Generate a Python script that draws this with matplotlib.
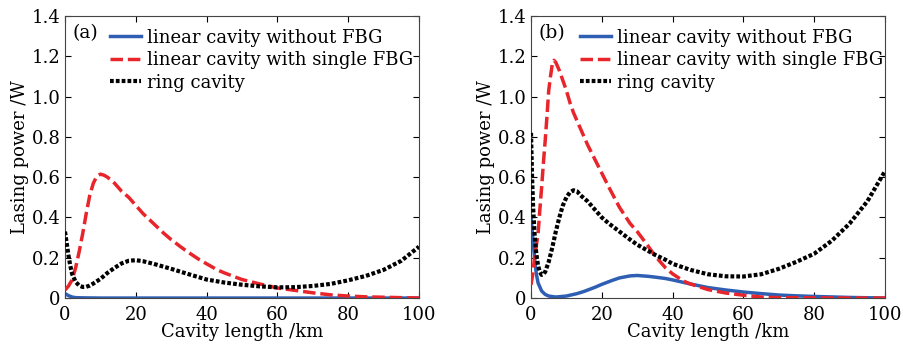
import numpy as np
import matplotlib
matplotlib.use("Agg")
import matplotlib.pyplot as plt

plt.rcParams['font.family'] = ['DejaVu Serif']
plt.rcParams['mathtext.fontset'] = 'dejavuserif'

# ---- panel (a) ----
xa_blue = [0, 1, 2, 3, 5, 10, 20, 40, 60, 80, 100]
ya_blue = [0.022, 0.012, 0.005, 0.002, 0.001, 0.0, 0.0, 0.0, 0.0, 0.0, 0.0]

xa_red = [0, 1, 2, 3, 4, 5, 6, 7, 8, 9, 10, 11, 12, 14, 16, 18, 20, 22, 25, 28, 30,
          33, 35, 38, 40, 43, 45, 48, 50, 55, 60, 65, 70, 75, 80, 85, 90, 95, 100]
ya_red = [0.04, 0.06, 0.09, 0.15, 0.23, 0.32, 0.42, 0.51, 0.57, 0.605, 0.615, 0.61, 0.6,
          0.57, 0.53, 0.5, 0.46, 0.42, 0.37, 0.32, 0.29, 0.25, 0.225, 0.19, 0.17,
          0.14, 0.125, 0.105, 0.092, 0.07, 0.05, 0.038, 0.026, 0.016, 0.01, 0.006,
          0.004, 0.002, 0.0]

xa_ring = [0, 0.5, 1, 1.5, 2, 3, 4, 5, 6, 7, 8, 10, 12, 14, 16, 18, 20, 22, 25, 28, 30,
           35, 40, 45, 50, 55, 60, 65, 70, 75, 80, 85, 90, 95, 100]
ya_ring = [0.33, 0.27, 0.21, 0.16, 0.12, 0.08, 0.062, 0.055, 0.056, 0.062, 0.072,
           0.095, 0.125, 0.15, 0.172, 0.185, 0.188, 0.183, 0.17, 0.155, 0.145,
           0.118, 0.092, 0.077, 0.066, 0.058, 0.053, 0.054, 0.06, 0.07, 0.088,
           0.11, 0.14, 0.185, 0.255]

# ---- panel (b) ----
xb_blue = [0, 0.5, 1, 1.5, 2, 3, 4, 5, 7, 10, 13, 15, 18, 20, 23, 25, 28, 30, 33, 35,
           38, 40, 45, 50, 55, 60, 65, 70, 75, 80, 90, 100]
yb_blue = [0.4, 0.3, 0.2, 0.12, 0.075, 0.035, 0.018, 0.01, 0.005, 0.01, 0.022, 0.033,
           0.053, 0.068, 0.088, 0.1, 0.11, 0.112, 0.108, 0.104, 0.097, 0.09, 0.07,
           0.052, 0.04, 0.03, 0.022, 0.015, 0.011, 0.008, 0.003, 0.0]

xb_red = [0, 0.5, 1, 1.5, 2, 2.5, 3, 3.5, 4, 4.5, 5, 5.5, 6, 6.5, 7, 8, 9, 10, 11, 12,
          14, 16, 18, 20, 22, 25, 28, 30, 33, 35, 38, 40, 43, 45, 50, 55, 60, 65, 70,
          80, 90, 100]
yb_red = [0.066, 0.12, 0.2, 0.26, 0.32, 0.44, 0.55, 0.67, 0.78, 0.9, 1.03, 1.1, 1.16,
          1.18, 1.17, 1.13, 1.08, 1.03, 0.97, 0.92, 0.84, 0.76, 0.69, 0.62, 0.55,
          0.45, 0.37, 0.33, 0.26, 0.21, 0.15, 0.12, 0.085, 0.07, 0.042, 0.025, 0.014,
          0.005, 0.002, 0.001, 0.0, 0.0]

xb_ring = [0, 0.3, 0.6, 1, 1.5, 2, 2.5, 3, 3.5, 4, 5, 6, 7, 8, 9, 10, 11, 12, 13, 14,
           16, 18, 20, 22, 25, 28, 30, 33, 35, 38, 40, 45, 50, 55, 60, 65, 70, 75, 80,
           85, 90, 95, 100]
yb_ring = [0.82, 0.6, 0.45, 0.32, 0.22, 0.16, 0.13, 0.115, 0.118, 0.13, 0.18, 0.25,
           0.33, 0.4, 0.46, 0.5, 0.525, 0.535, 0.53, 0.51, 0.48, 0.44, 0.4, 0.37,
           0.33, 0.29, 0.265, 0.235, 0.215, 0.19, 0.17, 0.14, 0.118, 0.108, 0.107,
           0.118, 0.145, 0.18, 0.22, 0.285, 0.37, 0.48, 0.63]

labels = ['linear cavity without FBG', 'linear cavity with single FBG', 'ring cavity']
panel_tags = ['(a)', '(b)']

fig = plt.figure(figsize=(9.04, 3.49), dpi=100)
ax_a = fig.add_axes([0.0719, 0.146, 0.3916, 0.808])
ax_b = fig.add_axes([0.5874, 0.146, 0.3916, 0.808])

panels = [
    (ax_a, xa_blue, ya_blue, xa_red, ya_red, xa_ring, ya_ring, 0.127),
    (ax_b, xb_blue, yb_blue, xb_red, yb_red, xb_ring, yb_ring, 0.138),
]

for i, (ax, xbl, ybl, xr, yr, xk, yk, leg_x) in enumerate(panels):
    ax.plot(xbl, ybl, color='#2f5fb3', lw=2.5, label=labels[0], zorder=2)
    ax.plot(xr, yr, color='#e8252b', lw=2.5, linestyle=(0, (3.6, 1.4)),
            label=labels[1], zorder=3)
    ax.plot(xk, yk, color='black', lw=3, linestyle=(0, (0.9, 0.5)),
            label=labels[2], zorder=4)

    ax.set_xlim(0, 100)
    ax.set_ylim(0, 1.4)
    ax.set_xticks([0, 20, 40, 60, 80, 100])
    ax.set_yticks([0, 0.2, 0.4, 0.6, 0.8, 1.0, 1.2, 1.4])
    ax.set_yticklabels(['0', '0.2', '0.4', '0.6', '0.8', '1.0', '1.2', '1.4'])
    ax.tick_params(direction='in', top=True, right=True, length=4, width=0.8,
                   labelsize=13)
    ax.tick_params(axis='x', pad=6)
    ax.tick_params(axis='y', pad=3)
    for s in ax.spines.values():
        s.set_linewidth(0.8)
        s.set_color('#444444')

    ax.set_xlabel('Cavity length /km', fontsize=13, labelpad=-1)
    ax.set_ylabel('Lasing power /W', fontsize=13, labelpad=2)

    ax.text(0.02, 0.94, panel_tags[i], transform=ax.transAxes, fontsize=13.5,
            va='center', ha='left')
    ax.legend(loc='upper left', bbox_to_anchor=(leg_x, 0.955), frameon=False,
              fontsize=13, handlelength=1.7, handletextpad=0.33,
              labelspacing=0.25, borderpad=0, borderaxespad=0)

fig.savefig('out.png', dpi=100)
